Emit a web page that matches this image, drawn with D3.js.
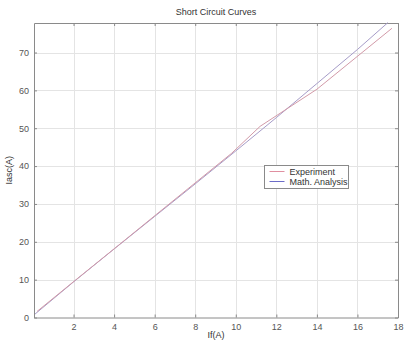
<!DOCTYPE html>
<html>
<head>
<meta charset="utf-8">
<script src="https://cdn.jsdelivr.net/npm/d3@7"></script>
<style>
  html, body { margin: 0; padding: 0; background: #fff; }
  svg { display: block; font-family: "Liberation Sans", Arial, sans-serif; }
</style>
</head>
<body>
<div id="chart"></div>
<script>
// Data
var xTicks = [2, 4, 6, 8, 10, 12, 14, 16, 18];
var yTicks = [0, 10, 20, 30, 40, 50, 60, 70];

var expX = [0.2, 2.1, 4.2, 6.1, 8.1, 9.8, 11.2, 14.0, 17.7];
var expY = [1.6, 9.9, 19.0, 27.3, 36.0, 43.4, 50.5, 60.3, 76.4];

var mathX = [0.1, 2, 4, 6, 8, 10, 12, 14, 16, 17.5];
var mathY = [0.9, 9.4, 18.1, 26.7, 35.3, 44.0, 52.8, 61.8, 70.8, 77.9];

var seriesNames = ['Experiment', 'Math. Analysis'];
var seriesColors = ['#d29aa8', '#a69cc8'];

(function () {
  var width = 406, height = 340;
  var margin = { top: 23, right: 6, bottom: 23, left: 34 };

  var svg = d3.select('#chart').append('svg')
    .attr('width', width)
    .attr('height', height);

  var x = d3.scaleLinear().domain([0.05, 18]).range([margin.left, width - margin.right - 2]);
  var y = d3.scaleLinear().domain([0, 77.8]).range([height - margin.bottom + 0.5, margin.top]);

  var x0 = x.range()[0], x1 = x.range()[1];
  var y0 = y.range()[0], y1 = y.range()[1];

  // Grid
  var grid = svg.append('g').attr('stroke', '#e4e4e4').attr('stroke-width', 1);
  grid.selectAll('.vx').data(xTicks).join('line')
    .attr('x1', function (d) { return Math.round(x(d)) + 0.5; })
    .attr('x2', function (d) { return Math.round(x(d)) + 0.5; })
    .attr('y1', y1).attr('y2', y0);
  grid.selectAll('.hy').data(yTicks.filter(function (d) { return d > 0; })).join('line')
    .attr('y1', function (d) { return Math.round(y(d)) + 0.5; })
    .attr('y2', function (d) { return Math.round(y(d)) + 0.5; })
    .attr('x1', x0).attr('x2', x1);

  // Axes (MATLAB-like: ticks inside, box around)
  var axisColor = '#8a8a8a';
  svg.append('g')
    .attr('transform', 'translate(0,' + y0 + ')')
    .call(d3.axisBottom(x).tickValues(xTicks).tickSizeInner(-3).tickSizeOuter(0).tickPadding(6));
  svg.append('g')
    .attr('transform', 'translate(' + x0 + ',0)')
    .call(d3.axisLeft(y).tickValues(yTicks).tickSizeInner(-3).tickSizeOuter(0).tickPadding(5));
  svg.append('g')
    .attr('transform', 'translate(0,' + y1 + ')')
    .call(d3.axisTop(x).tickValues(xTicks).tickSizeInner(-3).tickSizeOuter(0).tickFormat(''));
  svg.append('g')
    .attr('transform', 'translate(' + x1 + ',0)')
    .call(d3.axisRight(y).tickValues(yTicks).tickSizeInner(-3).tickSizeOuter(0).tickFormat(''));

  svg.selectAll('.domain').attr('stroke', axisColor);
  svg.selectAll('.tick line').attr('stroke', axisColor);
  svg.selectAll('.tick text').attr('fill', '#555').style('font-size', '9px');

  // Lines
  var line = d3.line()
    .x(function (d) { return x(d[0]); })
    .y(function (d) { return y(d[1]); });

  var expData = expX.map(function (v, i) { return [v, expY[i]]; });
  var mathData = mathX.map(function (v, i) { return [v, mathY[i]]; });

  svg.append('path').datum(mathData)
    .attr('d', line).attr('fill', 'none')
    .attr('stroke', seriesColors[1]).attr('stroke-width', 1);
  svg.append('path').datum(expData)
    .attr('d', line).attr('fill', 'none')
    .attr('stroke', seriesColors[0]).attr('stroke-width', 1);

  // Title and labels
  svg.append('text')
    .attr('x', (x0 + x1) / 2).attr('y', 15)
    .attr('text-anchor', 'middle')
    .style('font-size', '9px').attr('fill', '#333')
    .text('Short Circuit Curves');

  svg.append('text')
    .attr('x', (x0 + x1) / 2).attr('y', 338)
    .attr('text-anchor', 'middle')
    .style('font-size', '9px').attr('fill', '#333')
    .text('If(A)');

  svg.append('text')
    .attr('transform', 'translate(12,' + ((y0 + y1) / 2) + ') rotate(-90)')
    .attr('text-anchor', 'middle')
    .style('font-size', '9px').attr('fill', '#333')
    .text('Iasc(A)');

  // Legend
  var legend = svg.append('g').attr('transform', 'translate(264.5,165.5)');
  legend.append('rect')
    .attr('width', 84).attr('height', 23)
    .attr('fill', '#fff').attr('stroke', '#8a8a8a');
  seriesNames.forEach(function (name, i) {
    var ly = 6 + i * 10;
    legend.append('line')
      .attr('x1', 5).attr('x2', 20).attr('y1', ly).attr('y2', ly)
      .attr('stroke', i === 0 ? '#e08fa0' : '#6c6cc8').attr('stroke-width', 1);
    legend.append('text')
      .attr('x', 25).attr('y', ly + 3)
      .style('font-size', '9px').attr('fill', '#333')
      .text(name);
  });
})();
</script>
</body>
</html>
